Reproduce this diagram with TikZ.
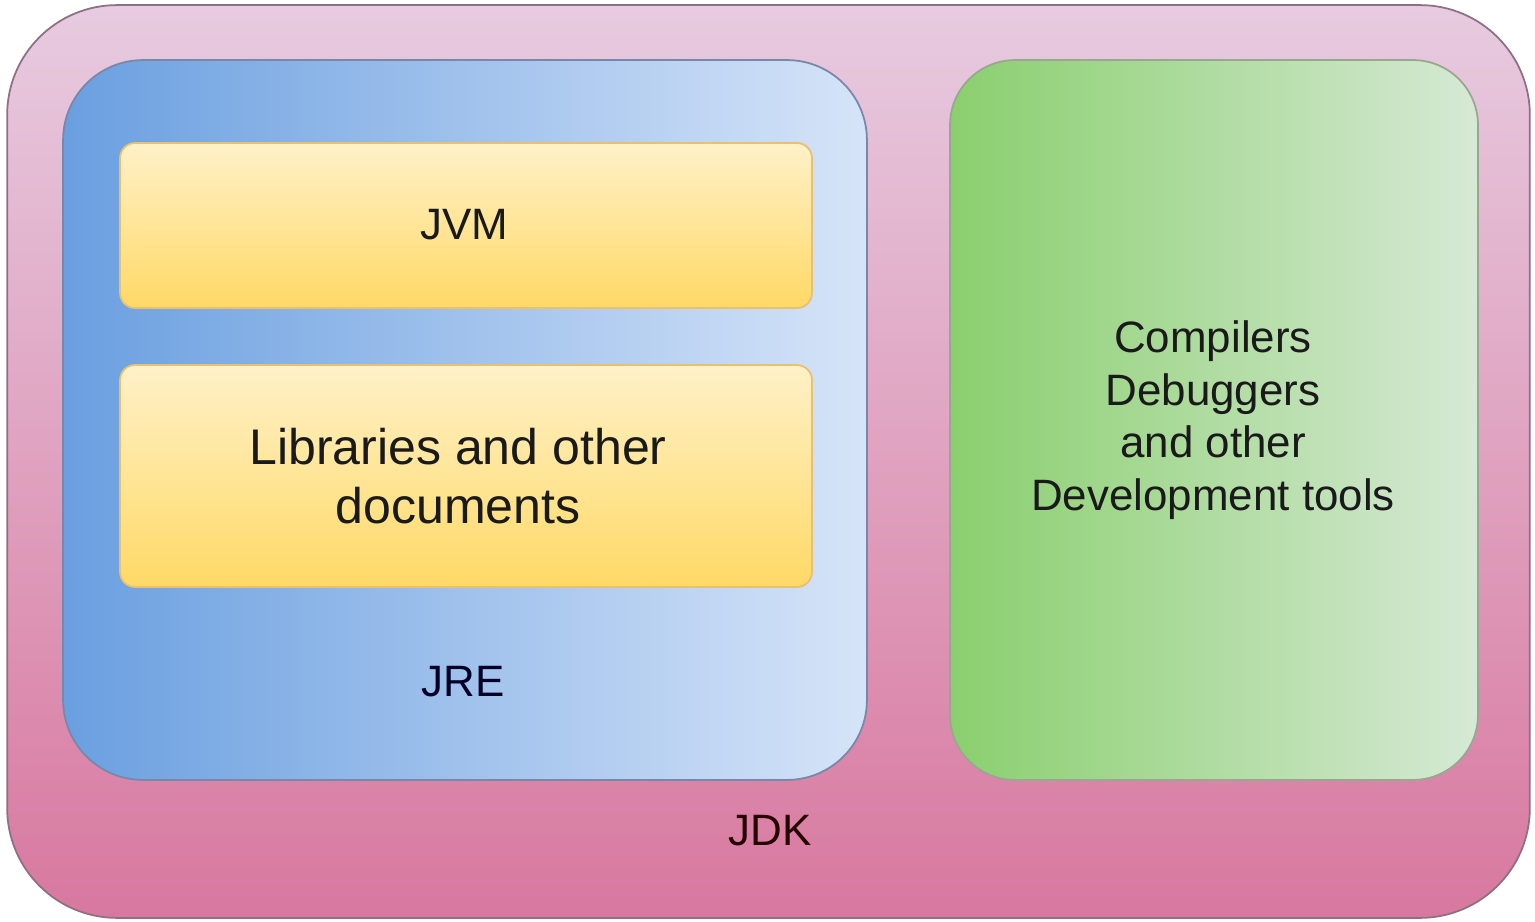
\documentclass[tikz,border=0pt]{standalone}
\usepackage{fontspec}
\setmainfont{Liberation Sans}
\definecolor{jdkTop}{HTML}{E7CBE0}
\definecolor{jdkMid}{HTML}{DA90B5}
\definecolor{jdkBot}{HTML}{D8789F}
\definecolor{jdkLine}{HTML}{8E7080}
\definecolor{jreLeft}{HTML}{6A9FE0}
\definecolor{jreRight}{HTML}{D6E4F8}
\definecolor{jreLine}{HTML}{7888A8}
\definecolor{ylTop}{HTML}{FFF1C8}
\definecolor{ylBot}{HTML}{FFD966}
\definecolor{ylLine}{HTML}{E8C070}
\definecolor{grLeft}{HTML}{8ACF6E}
\definecolor{grRight}{HTML}{D6E9D5}
\definecolor{grLine}{HTML}{98A890}
\definecolor{txt}{HTML}{1A1A1A}
\tikzset{
  box/.style={draw, line width=1pt, inner sep=0pt, outer sep=0pt},
  lbl/.style={text=txt, font=\fontsize{25}{30}\selectfont, align=center, inner sep=0pt},
}
\begin{document}
\begin{tikzpicture}[x=0.02cm, y=-0.02cm]
\useasboundingbox (0,0) rectangle (1535,922);
\node[box, draw=jdkLine, rounded corners=2.2cm, top color=jdkTop, middle color=jdkMid, bottom color=jdkBot,
      minimum width=30.46cm, minimum height=18.26cm] (jdk) at (768.5,461.5) {};
\node[box, draw=jreLine, rounded corners=1.6cm, left color=jreLeft, right color=jreRight,
      minimum width=16.08cm, minimum height=14.4cm] (jre) at (465,420) {};
\node[box, draw=grLine, rounded corners=1.3cm, left color=grLeft, right color=grRight,
      minimum width=10.56cm, minimum height=14.4cm] (tools) at (1214,420) {};
\node[box, draw=ylLine, rounded corners=0.3cm, top color=ylTop, bottom color=ylBot,
      minimum width=13.84cm, minimum height=3.3cm] (jvm) at (466,225.5) {};
\node[box, draw=ylLine, rounded corners=0.3cm, top color=ylTop, bottom color=ylBot,
      minimum width=13.84cm, minimum height=4.44cm] (lib) at (466,476) {};
\node[lbl] (jvmtxt) at (464,225) {JVM};
\node[lbl, font=\fontsize{28.5}{34}\selectfont] (libtxt) at (458,476) {Libraries and other\\documents};
\node[lbl, text=black!85!blue] (jretxt) at (463,682) {JRE};
\node[lbl, text=black!85!red] (jdktxt) at (770,831) {JDK};
\node[lbl] (toolstxt) at (1213,420) {Compilers\\Debuggers\\and other\\Development tools};
\end{tikzpicture}
\end{document}
